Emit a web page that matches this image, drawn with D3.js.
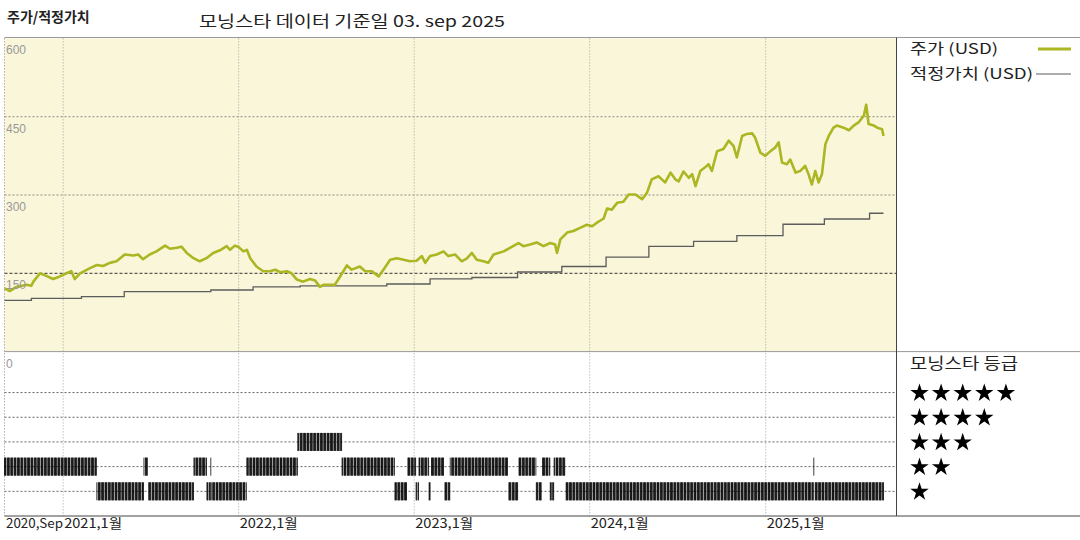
<!DOCTYPE html>
<html><head><meta charset="utf-8">
<script src="https://cdn.jsdelivr.net/npm/d3@7"></script>
<style>body{margin:0;background:#fff} svg{display:block}</style>
</head><body><svg id="c" width="1080" height="540"></svg>
<script>
// ---------- DATA ----------
const priceDates = ["2020-09-01","2020-09-12","2020-09-26","2020-10-03","2020-10-17","2020-10-27","2020-10-31","2020-11-14","2020-11-27","2020-12-11","2020-12-25",
"2021-01-08","2021-01-18","2021-01-25","2021-02-05","2021-02-26","2021-03-12","2021-03-25","2021-04-08","2021-04-22","2021-05-09","2021-05-27","2021-06-06","2021-06-16","2021-06-30","2021-07-14","2021-08-01","2021-08-11","2021-08-25","2021-09-04","2021-09-15","2021-09-29","2021-10-12","2021-10-26","2021-11-09","2021-11-23","2021-12-07","2021-12-14","2021-12-24","2021-12-31",
"2022-01-11","2022-01-18","2022-01-25","2022-02-07","2022-02-21","2022-03-07","2022-03-18","2022-03-28","2022-04-11","2022-04-21","2022-05-02","2022-05-15","2022-05-29","2022-06-09","2022-06-19","2022-06-26","2022-07-10","2022-07-20","2022-07-31","2022-08-14","2022-08-24","2022-09-10","2022-09-21","2022-10-05","2022-10-19","2022-10-29","2022-11-12","2022-11-26","2022-12-10","2022-12-23",
"2023-01-06","2023-01-17","2023-01-24","2023-02-03","2023-02-17","2023-03-03","2023-03-13","2023-03-27","2023-04-10","2023-04-20","2023-05-01","2023-05-11","2023-05-25","2023-06-04","2023-06-15","2023-07-06","2023-07-20","2023-08-06","2023-08-16","2023-08-30","2023-09-13","2023-09-27","2023-10-11","2023-10-21","2023-10-25","2023-11-01","2023-11-15","2023-11-28","2023-12-12","2023-12-26",
"2024-01-06","2024-01-16","2024-01-30","2024-02-06","2024-02-16","2024-02-27","2024-03-11","2024-03-22","2024-04-05","2024-04-19","2024-04-29","2024-05-09","2024-05-23","2024-05-30","2024-06-06","2024-06-17","2024-06-27","2024-07-04","2024-07-14","2024-07-25","2024-08-01","2024-08-08","2024-08-18","2024-08-28","2024-09-04","2024-09-11","2024-09-22","2024-10-05","2024-10-16","2024-10-26","2024-11-02","2024-11-13","2024-11-23","2024-12-04","2024-12-10","2024-12-21","2024-12-31",
"2025-01-11","2025-01-21","2025-01-28","2025-02-04","2025-02-14","2025-02-21","2025-03-04","2025-03-14","2025-03-24","2025-03-31","2025-04-07","2025-04-14","2025-04-21","2025-04-28","2025-05-05","2025-05-12","2025-05-22","2025-05-29","2025-06-12","2025-06-23","2025-07-03","2025-07-13","2025-07-24","2025-07-29","2025-08-03","2025-08-14","2025-08-21","2025-08-31","2025-09-03"];
const priceValues = [121,116,124,125,128,126,134,150,145,139,144,
150,154,139,150,160,166,164,170,173,186,184,186,177,186,192,203,197,199,201,189,179,173,179,189,194,202,195,203,201,
192,195,179,163,154,154,157,152,154,150,138,134,139,136,124,128,128,128,144,165,157,163,154,154,144,157,176,179,176,173,
174,183,170,183,186,192,183,186,173,178,189,176,173,170,186,192,199,208,202,205,209,202,208,205,189,215,228,231,237,243,
240,247,255,274,272,285,287,301,301,292,304,330,336,330,324,343,330,326,345,333,340,317,346,353,359,346,384,388,404,394,372,413,417,418,410,381,375,
384,391,401,362,359,368,343,346,356,340,320,346,324,340,397,413,429,433,429,424,433,439,452,473,436,433,429,426,413];

const fairDates = ["2020-09-01","2020-10-27","2021-02-08","2021-05-08","2021-11-04","2022-01-31","2022-05-09","2022-11-05","2023-02-03","2023-05-01","2023-08-04","2023-11-04","2024-02-04","2024-05-03","2024-08-04","2024-11-02","2025-02-06","2025-05-03","2025-08-05","2025-09-03"];
const fairValues = [98,102,105.5,115,118,124,126,129.5,139.5,142,152.5,163,181,201.5,211,222,244,254,265,265];

const ratingStart = ["2020-09-01","2021-03-12","2021-06-18","2021-06-26","2021-09-30","2021-10-27","2021-11-04","2021-11-05","2022-01-18","2022-05-04","2022-08-04","2022-11-22","2022-12-17","2023-01-05","2023-01-11","2023-02-01","2023-02-05","2023-03-04","2023-03-17","2023-07-17","2023-08-05","2023-09-12","2023-09-24","2023-10-11","2023-10-19","2023-11-13","2025-04-11","2025-04-12"];
const ratingEnd   = ["2021-03-12","2021-06-18","2021-06-26","2021-09-30","2021-10-27","2021-11-04","2021-11-05","2022-01-18","2022-05-04","2022-08-04","2022-11-22","2022-12-17","2023-01-05","2023-01-11","2023-02-01","2023-02-05","2023-03-04","2023-03-17","2023-07-17","2023-08-05","2023-09-12","2023-09-24","2023-10-11","2023-10-19","2023-11-13","2025-04-11","2025-04-12","2025-09-04"];
const ratingStars = [2,1,2,1,2,1,2,1,2,3,2,1,2,1,2,1,2,1,2,1,2,1,2,1,2,1,2,1];

const yTicks = [0,150,300,450,600];
const xTickDates = ["2020-09-01","2021-01-01","2022-01-01","2023-01-01","2024-01-01","2025-01-01"];
const xTickLabels = ["2020,Sep","2021,1월","2022,1월","2023,1월","2024,1월","2025,1월"];
const starRows = [5,4,3,2,1];
const legendLabels = ["주가 (USD)","적정가치 (USD)"];
const titleText = "주가/적정가치";
const subTitleText = "모닝스타 데이터 기준일 03. sep 2025";
const ratingTitle = "모닝스타 등급";

// ---------- CHART ----------
const parse = d3.timeParse("%Y-%m-%d");
const svg = d3.select("#c");
const FONT = "'Noto Sans CJK KR', 'Liberation Sans', sans-serif";
const L = 4.5, R = 896.5, T = 38.4, MID = 351.6, B = 516;

const x = d3.scaleTime().domain([parse("2020-09-01"), parse("2025-09-30")]).range([L, R]);
const y = d3.scaleLinear().domain([0, 600]).range([MID, T]);
const yR = d3.scaleLinear().domain([0, 6.66]).range([B, MID]);

// panel background
svg.append("rect").attr("x", L).attr("y", T).attr("width", R - L).attr("height", MID - T).attr("fill", "#faf6da");

// horizontal grid (price)
[300, 450].forEach(v => svg.append("line").attr("x1", L).attr("x2", R).attr("y1", y(v)).attr("y2", y(v))
  .attr("stroke", "#8a8a80").attr("stroke-dasharray", "2,2").attr("stroke-width", 1));
svg.append("line").attr("x1", L).attr("x2", R).attr("y1", y(150)).attr("y2", y(150))
  .attr("stroke", "#333").attr("stroke-dasharray", "3,2").attr("stroke-width", 1);

// rating row grid
starRows.forEach(r => svg.append("line").attr("x1", L).attr("x2", R).attr("y1", yR(r)).attr("y2", yR(r))
  .attr("stroke", "#666").attr("stroke-dasharray", "2,2").attr("stroke-width", 1));

// vertical grid
xTickDates.slice(1).forEach(d => svg.append("line").attr("x1", x(parse(d))).attr("x2", x(parse(d)))
  .attr("y1", T).attr("y2", B).attr("stroke", "#a0a0a0").attr("stroke-dasharray", "1,2").attr("stroke-width", 1));
svg.append("line").attr("x1", L).attr("x2", L).attr("y1", T).attr("y2", B)
  .attr("stroke", "#888").attr("stroke-dasharray", "1,2");

// frame lines
svg.append("line").attr("x1", L).attr("x2", 1080).attr("y1", 37.5).attr("y2", 37.5).attr("stroke", "#999");
svg.append("line").attr("x1", L).attr("x2", 1080).attr("y1", MID).attr("y2", MID).attr("stroke", "#999");
svg.append("line").attr("x1", L).attr("x2", 1080).attr("y1", B).attr("y2", B).attr("stroke", "#444");
svg.append("line").attr("x1", R).attr("x2", R).attr("y1", 37.5).attr("y2", B).attr("stroke", "#444");

// rating bars (one tick per weekday)
const ticks = [];
ratingStars.forEach((s, i) => {
  d3.timeDay.range(parse(ratingStart[i]), parse(ratingEnd[i])).forEach(d => {
    const wd = d.getDay();
    if (wd !== 0 && wd !== 6) ticks.push({d, s});
  });
});
svg.append("g").selectAll("line").data(ticks).join("line")
  .attr("x1", t => x(t.d)).attr("x2", t => x(t.d))
  .attr("y1", t => yR(t.s) - 9).attr("y2", t => yR(t.s) + 9)
  .attr("stroke", "#000").attr("stroke-width", 0.9).attr("stroke-opacity", 0.85);

// fair value line
const fair = fairDates.map((d, i) => ({d: parse(d), v: fairValues[i]}));
svg.append("path").datum(fair).attr("fill", "none").attr("stroke", "#5c5c5c").attr("stroke-width", 1.3)
  .attr("d", d3.line().x(p => x(p.d)).y(p => y(p.v)).curve(d3.curveStepAfter));

// price line
const price = priceDates.map((d, i) => ({d: parse(d), v: priceValues[i]}));
svg.append("path").datum(price).attr("fill", "none").attr("stroke", "#abb622").attr("stroke-width", 2.6)
  .attr("stroke-linejoin", "round")
  .attr("d", d3.line().x(p => x(p.d)).y(p => y(p.v)));

// y tick labels
svg.append("g").selectAll("text").data(yTicks).join("text")
  .attr("x", 6).attr("y", v => y(v) + 16).text(v => v)
  .attr("font-family", "'Liberation Sans', sans-serif").attr("font-size", 12).attr("fill", "#999");

// x tick labels
svg.append("g").selectAll("text").data(xTickDates).join("text")
  .attr("x", (d, i) => i === 0 ? 6 : x(parse(d)) + 1)
  .attr("y", 528)
  .attr("textLength", (d, i) => i === 0 ? 57 : 58).attr("lengthAdjust", "spacingAndGlyphs")
  .text((d, i) => xTickLabels[i])
  .attr("font-family", FONT).attr("font-size", 13).attr("fill", "#222");

// titles
svg.append("text").attr("x", 7).attr("y", 22).text(titleText)
  .attr("font-family", FONT).attr("font-size", 14).attr("font-weight", "bold").attr("fill", "#222");
svg.append("text").attr("x", 199).attr("y", 27).text(subTitleText)
  .attr("textLength", 306).attr("lengthAdjust", "spacingAndGlyphs")
  .attr("font-family", FONT).attr("font-size", 15.5).attr("fill", "#222");

// legend (top)
const legColors = ["#abb622", "#5c5c5c"];
const legWidths = [3, 1.2];
const legTextLen = [88, 123];
const legX1 = [1038, 1036];
legendLabels.forEach((lab, i) => {
  const yy = 54 + i * 25;
  svg.append("text").attr("x", 910).attr("y", yy).text(lab)
    .attr("textLength", legTextLen[i]).attr("lengthAdjust", "spacingAndGlyphs")
    .attr("font-family", FONT).attr("font-size", 14.5).attr("fill", "#222");
  svg.append("line").attr("x1", legX1[i]).attr("x2", 1071).attr("y1", yy - 5).attr("y2", yy - 5)
    .attr("stroke", legColors[i]).attr("stroke-width", legWidths[i]);
});

// rating legend
svg.append("text").attr("x", 910).attr("y", 369).text(ratingTitle)
  .attr("textLength", 108).attr("lengthAdjust", "spacingAndGlyphs")
  .attr("font-family", FONT).attr("font-size", 15.5).attr("fill", "#222");
const star = d3.symbol().type(d3.symbolStar).size(105)();
starRows.forEach(r => {
  svg.append("g").selectAll("path").data(d3.range(r)).join("path")
    .attr("d", star)
    .attr("transform", k => `translate(${919.5 + k * 21.6},${yR(r) + 0.5})`)
    .attr("fill", "#000");
});
</script></body></html>
